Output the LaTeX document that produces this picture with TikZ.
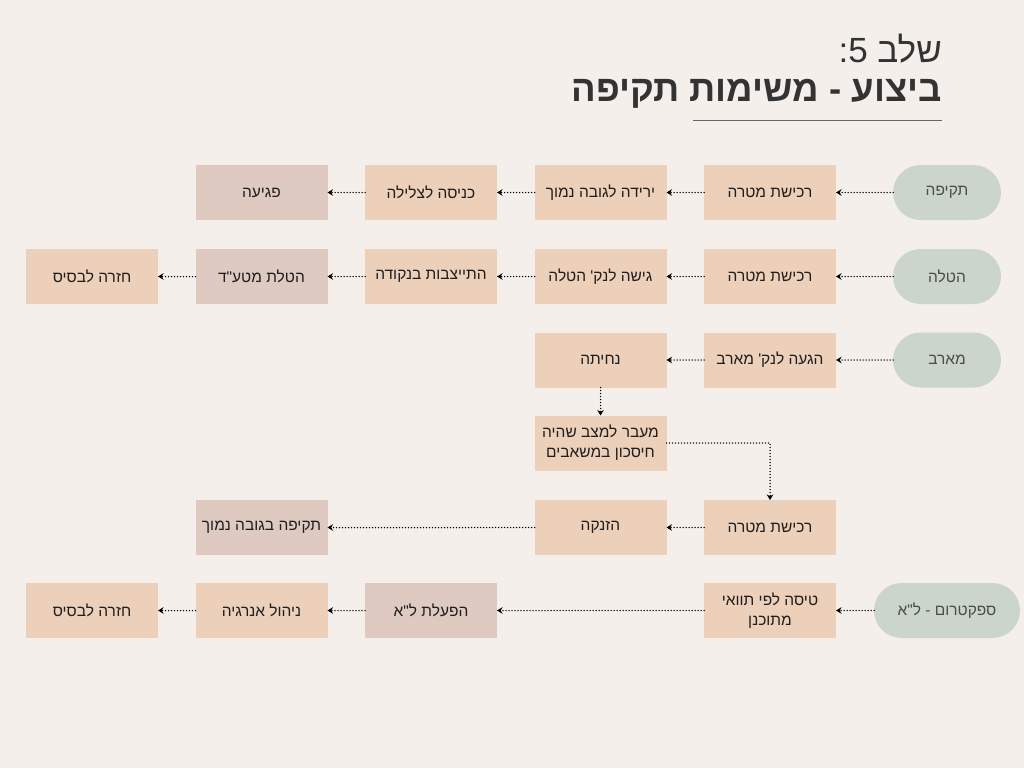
\documentclass[tikz,border=0pt]{standalone}
\usepackage{fontspec}
\setmainfont{Liberation Sans}
\newfontfamily\hebfont[Script=Hebrew]{Liberation Sans}
\TeXXeTstate=1
\usetikzlibrary{positioning,arrows.meta}
\definecolor{bgcol}{HTML}{F4EFEA}
\definecolor{peach}{HTML}{EDD0BA}
\definecolor{mauve}{HTML}{DECAC1}
\definecolor{sage}{HTML}{CBD5CC}
\definecolor{titlecol}{HTML}{333333}
\newcommand{\heb}[1]{{\hebfont\beginR #1\endR}}
\begin{document}
\begin{tikzpicture}[x=1pt,y=-1pt,node distance=37.5pt,
  box/.style={rectangle,fill=peach,minimum width=132pt,minimum height=55pt,inner sep=2pt,outer sep=0pt,align=center,text=black!88,font=\fontsize{15.5}{20}\selectfont},
  mauvebox/.style={box,fill=mauve},
  pill/.style={rectangle,rounded corners=27.5pt,fill=sage,minimum width=108pt,minimum height=55pt,outer sep=0pt,text=black!70,font=\fontsize{15.5}{20}\selectfont},
  flow/.style={-{Stealth[length=5.5pt,width=6.5pt,line cap=butt]},line width=1.5pt,line cap=round,dash pattern=on 0pt off 3pt}]
\fill[bgcol] (0,0) rectangle (1024,768);
\useasboundingbox (0,0) rectangle (1024,768);

% title
\node (step) [anchor=base east,inner sep=0pt,text=titlecol,font=\fontsize{35}{40}\selectfont] at (942,63) {\heb{שלב 5:}};
\node (title) [anchor=base east,inner sep=0pt,text=titlecol,font=\fontsize{36.5}{42}\selectfont\bfseries] at (942,101) {\heb{ביצוע - משימות תקיפה}};
\draw[black!60,line width=1pt] (693,120) -- (942,120);

% row 1
\node (attack) [pill] at (947,192.5) {\heb{תקיפה}};
\node (acq1) [box] at (770,192.5) {\heb{רכישת מטרה}};
\node (descend) [box,left=of acq1] {\heb{ירידה לגובה נמוך}};
\node (dive) [box,left=of descend] {\heb{כניסה לצלילה}};
\node (hit) [mauvebox,left=of dive] {\heb{פגיעה}};
\draw[flow] (attack) -- (acq1);
\draw[flow] (acq1) -- (descend);
\draw[flow] (descend) -- (dive);
\draw[flow] (dive) -- (hit);

% row 2
\node (drop) [pill] at (947,276.5) {\heb{הטלה}};
\node (acq2) [box] at (770,276.5) {\heb{רכישת מטרה}};
\node (approach) [box,left=of acq2] {\heb{גישה לנק' הטלה}};
\node (stab) [box,left=of approach] {\heb{התייצבות בנקודה}};
\node (payload) [mauvebox,left=of stab] {\heb{הטלת מטע"ד}};
\node (home1) [box,left=of payload] {\heb{חזרה לבסיס}};
\draw[flow] (drop) -- (acq2);
\draw[flow] (acq2) -- (approach);
\draw[flow] (approach) -- (stab);
\draw[flow] (stab) -- (payload);
\draw[flow] (payload) -- (home1);

% row 3-5
\node (ambush) [pill] at (947,360) {\heb{מארב}};
\node (arrive) [box] at (770,360) {\heb{הגעה לנק' מארב}};
\node (land) [box,left=of arrive] {\heb{נחיתה}};
\node (save) [box,below=28pt of land] {\heb{מעבר למצב שהיה}\\\heb{חיסכון במשאבים}};
\node (acq3) [box] at (770,527.5) {\heb{רכישת מטרה}};
\node (launch) [box,left=of acq3] {\heb{הזנקה}};
\node (lowstrike) [mauvebox,left=207pt of launch] {\heb{תקיפה בגובה נמוך}};
\draw[flow] (ambush) -- (arrive);
\draw[flow] (arrive) -- (land);
\draw[flow] (land) -- (save);
\draw[flow] (save.east) -| (acq3.north);
\draw[flow] (acq3) -- (launch);
\draw[flow] (launch) -- (lowstrike);

% row 6
\node (ew) [pill,minimum width=146pt] at (947,610.5) {\heb{ספקטרום - ל"א}};
\node (route) [box] at (770,610.5) {\heb{טיסה לפי תוואי}\\\heb{מתוכנן}};
\node (jam) [mauvebox,left=207pt of route] {\heb{הפעלת ל"א}};
\node (energy) [box,left=of jam] {\heb{ניהול אנרגיה}};
\node (home2) [box,left=of energy] {\heb{חזרה לבסיס}};
\draw[flow] (ew) -- (route);
\draw[flow] (route) -- (jam);
\draw[flow] (jam) -- (energy);
\draw[flow] (energy) -- (home2);
\end{tikzpicture}
\end{document}
